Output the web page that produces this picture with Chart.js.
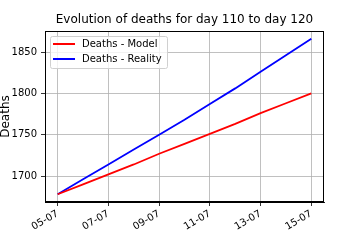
<!DOCTYPE html>
<html>
<head>
<meta charset="utf-8">
<script src="https://cdn.jsdelivr.net/npm/chart.js@4"></script>
<style>
  html, body { margin: 0; padding: 0; background: #fff; }
</style>
</head>
<body>
<canvas id="chart" width="360" height="252"></canvas>
<script>
const titleText = 'Evolution of deaths for day 110 to day 120';
const dates = ['05-07', '06-07', '07-07', '08-07', '09-07', '10-07', '11-07', '12-07', '13-07', '14-07', '15-07'];
const model = [1678, 1690, 1702, 1714, 1727, 1739, 1751, 1763, 1776, 1788, 1800];
const reality = [1678, 1696, 1714, 1732, 1750, 1768, 1787, 1806, 1826, 1846, 1866];
const xTickIdx = [0, 2, 4, 6, 8, 10];
const yTicks = [1700, 1750, 1800, 1850];

Chart.defaults.font.family = 'DejaVu Sans';
Chart.defaults.font.size = 10;
Chart.defaults.color = '#000';

// box around the plot + title centred on the plot area
const framePlugin = {
  id: 'frame',
  afterDraw(chart) {
    const { ctx, chartArea: a } = chart;
    ctx.save();
    ctx.strokeStyle = '#000';
    ctx.lineWidth = 1;
    ctx.strokeRect(a.left + 0.5, a.top + 0.5, a.right - a.left - 1, a.bottom - a.top - 1);
    ctx.font = '12px "DejaVu Sans"';
    ctx.fillStyle = '#000';
    ctx.textAlign = 'center';
    ctx.textBaseline = 'middle';
    ctx.fillText(titleText, (a.left + a.right) / 2, 20);
    ctx.restore();
  }
};

// matplotlib style legend in the upper left corner
const legendPlugin = {
  id: 'mplLegend',
  afterDraw(chart) {
    const { ctx, chartArea: a } = chart;
    const x = a.left + 5, y = a.top + 5, w = 117, h = 32;
    ctx.save();
    ctx.globalAlpha = 0.8;
    ctx.fillStyle = '#fff';
    ctx.beginPath();
    ctx.roundRect(x + 0.5, y + 0.5, w, h, 2);
    ctx.fill();
    ctx.globalAlpha = 1;
    ctx.strokeStyle = '#d0d0d0';
    ctx.lineWidth = 1;
    ctx.stroke();
    ctx.font = '10px "DejaVu Sans"';
    ctx.textBaseline = 'middle';
    chart.data.datasets.forEach((ds, i) => {
      const ly = y + 8 + i * 15;
      ctx.strokeStyle = ds.borderColor;
      ctx.lineWidth = 2;
      ctx.beginPath();
      ctx.moveTo(x + 3, ly);
      ctx.lineTo(x + 25, ly);
      ctx.stroke();
      ctx.fillStyle = '#000';
      ctx.fillText(ds.label, x + 32, ly);
    });
    ctx.restore();
  }
};

new Chart(document.getElementById('chart'), {
  type: 'line',
  data: {
    datasets: [
      { label: 'Deaths - Model', data: model.map((v, i) => ({ x: i, y: v })), borderColor: '#ff0000', borderWidth: 1.8, pointRadius: 0, tension: 0 },
      { label: 'Deaths - Reality', data: reality.map((v, i) => ({ x: i, y: v })), borderColor: '#0000ff', borderWidth: 1.8, pointRadius: 0, tension: 0 }
    ]
  },
  options: {
    responsive: false,
    animation: false,
    layout: { padding: { top: 31, right: 36, left: 0, bottom: 0 } },
    plugins: { legend: { display: false }, title: { display: false }, tooltip: { enabled: false } },
    scales: {
      x: {
        type: 'linear',
        min: -0.5,
        max: 10.5,
        afterBuildTicks: s => { s.ticks = xTickIdx.map(v => ({ value: v })); },
        afterFit: s => { s.height = 50; },
        ticks: { autoSkip: false, minRotation: 30, maxRotation: 30, padding: 2, callback: v => dates[v] },
        grid: { color: '#b0b0b0', lineWidth: 0.8, tickColor: '#000', tickLength: 4 },
        border: { color: '#000', width: 1 }
      },
      y: {
        min: 1668.6,
        max: 1875.4,
        afterBuildTicks: s => { s.ticks = yTicks.map(v => ({ value: v })); },
        afterFit: s => { s.width = 45; },
        ticks: { padding: 4, callback: v => String(v) },
        title: { display: true, text: 'Deaths', font: { size: 12 }, padding: { top: -1, bottom: 0 } },
        grid: { color: '#b0b0b0', lineWidth: 0.8, tickColor: '#000', tickLength: 4 },
        border: { color: '#000', width: 1 }
      }
    }
  },
  plugins: [framePlugin, legendPlugin]
});
</script>
</body>
</html>
